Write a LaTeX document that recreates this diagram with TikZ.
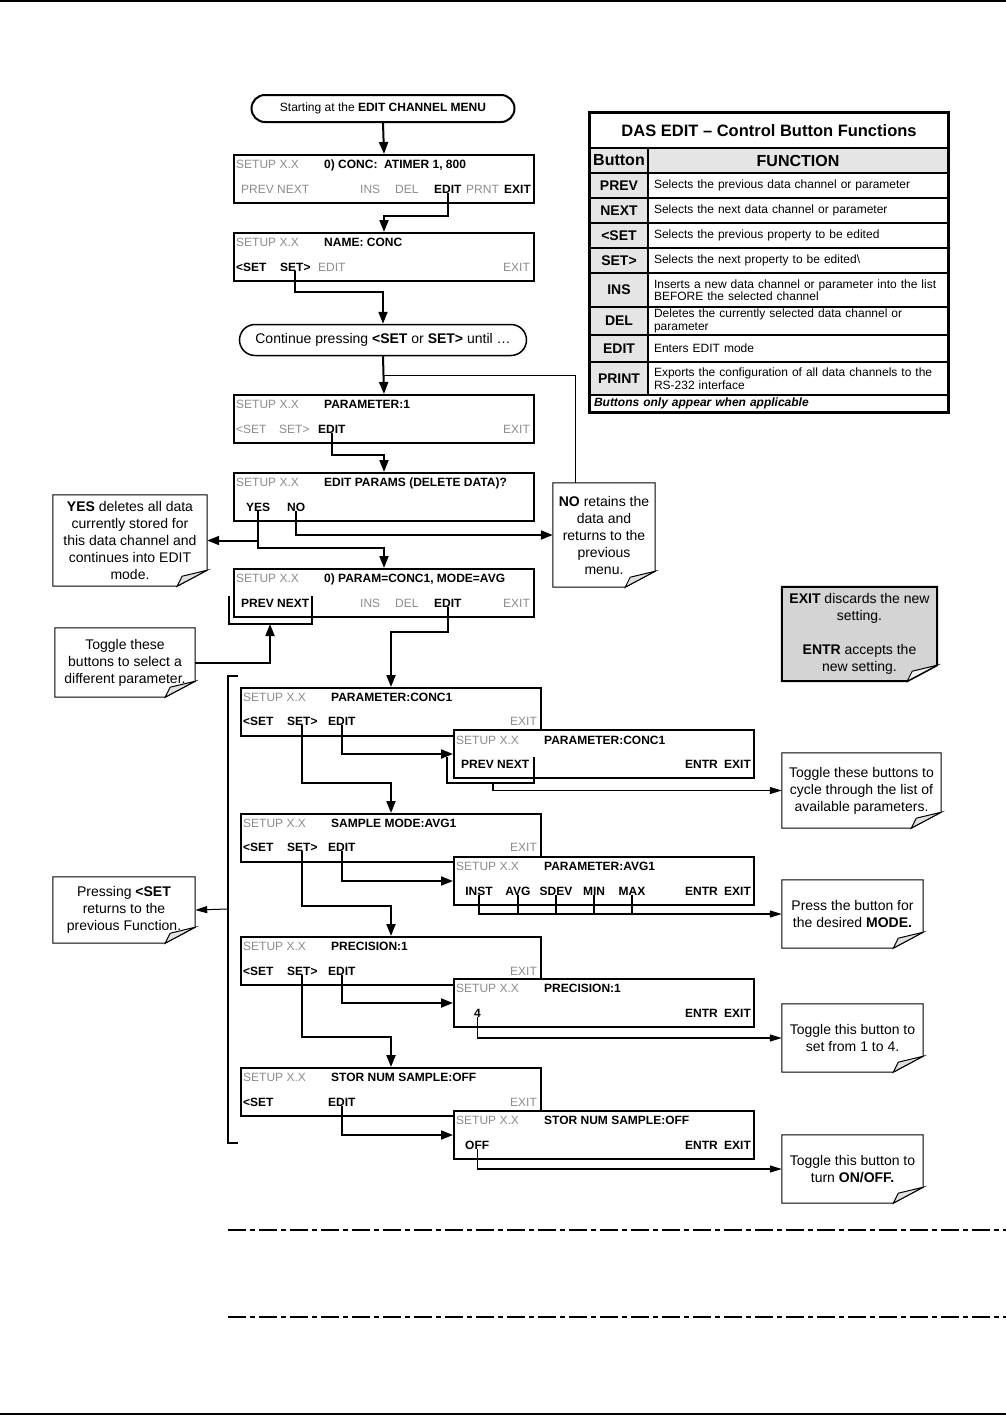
\documentclass[tikz,border=0pt]{standalone}
\usepackage{fontspec}
\setmainfont{Liberation Sans}
\usepackage{tikz}
\usetikzlibrary{shapes}
\usetikzlibrary{arrows.meta}
\usetikzlibrary{calc}
\usetikzlibrary{positioning}

\begin{document}
\begin{tikzpicture}[
		x=1pt,
		y=-1pt,
		font=\fontsize{12pt}{14pt}\selectfont,
		>={Triangle[length=12pt,width=9pt]},
	]
		\tikzset{screen/.style={
			draw,
			rectangle,
			line width=2,
			fill=white,
			anchor=north west,
			minimum width=300,
			minimum height=48,
			inner sep=0,
		}}
		\tikzset{dim/.style={
			anchor=base west,
			inner sep=0,
			text=black!45,
		}}
		\tikzset{key/.style={
			anchor=base west,
			inner sep=0,
			font=\fontsize{12pt}{14pt}\selectfont\bfseries,
		}}
		\tikzset{note/.style={
			align=center,
			inner sep=0,
			font=\fontsize{14pt}{17pt}\selectfont,
		}}
		\tikzset{flow/.style={
			line width=2,
			->,
		}}
		\tikzset{tip/.style={
			line width=1.2,
			-{Triangle[length=12pt,width=7pt]},
		}}
		\tikzset{wire/.style={
			line width=1.2,
		}}
		\tikzset{btncell/.style={
			draw,
			line width=1.2,
			fill=black!10,
			minimum width=58,
			inner sep=0,
			font=\fontsize{14pt}{16pt}\selectfont\bfseries,
		}}
		\tikzset{fncell/.style={
			draw,
			line width=1.2,
			minimum width=300,
			text width=288,
			inner xsep=6,
			inner ysep=0,
			align=left,
			font=\fontsize{12pt}{12.5pt}\selectfont,
		}}

		\useasboundingbox (0,0) rectangle (1006,1416);
		\draw[line width=2] (0,1) -- (1006,1);
		\draw[line width=2] (0,1414) -- (1006,1414);

		%---------------------------------
		% Button table
		\node[
			draw,
			line width=1.5,
			minimum width=358,
			minimum height=35,
			inner sep=0,
			font=\fontsize{16.5pt}{18pt}\selectfont\bfseries,
		] (tbltitle) at (769,130.5) {DAS EDIT -- Control Button Functions};
		\node[
			btncell,
			minimum height=25,
			font=\fontsize{16pt}{18pt}\selectfont\bfseries,
		] (tblbtn) at (619,160.5) {Button};
		\node[
			draw,
			line width=1.2,
			fill=black!10,
			minimum width=300,
			minimum height=25,
			inner sep=0,
			font=\fontsize{16pt}{18pt}\selectfont\bfseries,
		] (tblfn) at (798,160.5) {FUNCTION};
		\foreach \btn/\fn/\ya/\yb [count=\i] in {
			PREV/{Selects the previous data channel or parameter}/173/198,
			NEXT/{Selects the next data channel or parameter}/198/223,
			<SET/{Selects the previous property to be edited}/223/248,
			SET>/{Selects the next property to be edited\textbackslash}/248/273,
			INS/{Inserts a new data channel or parameter into the list\\BEFORE the selected channel}/273/307,
			DEL/{Deletes the currently selected data channel or\\parameter}/307/335,
			EDIT/{Enters EDIT mode}/335/362,
			PRINT/{Exports the configuration of all data channels to the\\RS-232 interface}/362/395%
		}{
			\node[btncell, minimum height=\yb-\ya] (btn\i) at (619,{(\ya+\yb)/2}) {\btn};
			\node[fncell, minimum height=\yb-\ya] (fn\i) at (798,{(\ya+\yb)/2}) {\fn};
		}
		\node[
			draw,
			line width=1.2,
			minimum width=358,
			minimum height=17,
			text width=350,
			inner xsep=4,
			inner ysep=0,
			align=left,
			font=\fontsize{12pt}{13pt}\selectfont\bfseries\itshape,
		] (tblfoot) at (769,403.5) {Buttons only appear when applicable};
		\draw[line width=2] (tbltitle.north west) rectangle (tblfoot.south east);

		%---------------------------------
		% Channel menu
		\node[
			draw,
			rounded rectangle,
			line width=2,
			minimum width=263,
			minimum height=27,
			inner sep=0,
			font=\fontsize{12pt}{13pt}\selectfont,
		] (start) at (383,108.5) {Starting at the \textbf{EDIT CHANNEL MENU}};

		\node[screen] (scr1) at (233,154) {};
		\node[dim] (s1setup) at (236,168) {SETUP X.X};
		\node[key] (s1title) at (324,168) {0) CONC:\ \ ATIMER 1, 800};
		\node[dim] (s1prev) at (241,193) {PREV NEXT};
		\node[dim] (s1ins) at (360,193) {INS};
		\node[dim] (s1del) at (395,193) {DEL};
		\node[key] (s1edit) at (434,193) {EDIT};
		\node[dim] (s1prnt) at (466,193) {PRNT};
		\node[key] (s1exit) at (504,193) {EXIT};

		\node[screen] (scr2) at (233,232) {};
		\node[dim] (s2setup) at (236,246) {SETUP X.X};
		\node[key] (s2title) at (324,246) {NAME: CONC};
		\node[key] (s2lset) at (236,271) {<SET};
		\node[key] (s2rset) at (280,271) {SET>};
		\node[dim] (s2edit) at (318,271) {EDIT};
		\node[dim] (s2exit) at (503,271) {EXIT};

		\node[
			draw,
			rounded rectangle,
			line width=1.5,
			minimum width=287,
			minimum height=31,
			inner sep=0,
			font=\fontsize{14pt}{16pt}\selectfont,
		] (cont) at (383,340) {Continue pressing \textbf{<SET} or \textbf{SET>} until \ldots};

		%---------------------------------
		% Parameter menu
		\node[screen] (scr3) at (233,394) {};
		\node[dim] (s3setup) at (236,408) {SETUP X.X};
		\node[key] (s3title) at (324,408) {PARAMETER:1};
		\node[dim] (s3lset) at (236,433) {<SET};
		\node[dim] (s3rset) at (279,433) {SET>};
		\node[key] (s3edit) at (318,433) {EDIT};
		\node[dim] (s3exit) at (503,433) {EXIT};

		\node[screen] (scr4) at (233,472) {};
		\node[dim] (s4setup) at (236,486) {SETUP X.X};
		\node[key] (s4title) at (324,486) {EDIT PARAMS (DELETE DATA)?};
		\node[key] (s4yes) at (246,511) {YES};
		\node[key] (s4no) at (287,511) {NO};

		\node[screen] (scr5) at (233,568) {};
		\node[dim] (s5setup) at (236,582) {SETUP X.X};
		\node[key] (s5title) at (324,582) {0) PARAM=CONC1, MODE=AVG};
		\node[key] (s5prev) at (241,607) {PREV NEXT};
		\node[dim] (s5ins) at (360,607) {INS};
		\node[dim] (s5del) at (395,607) {DEL};
		\node[key] (s5edit) at (434,607) {EDIT};
		\node[dim] (s5exit) at (503,607) {EXIT};
		\draw[wire] (229,596) -- (229,624) -- (312,624) -- (312,596);
		\coordinate (brk5) at (270,624);

		%---------------------------------
		% Properties
		\node[screen] (scr6) at (240,687) {};
		\node[dim] (s6setup) at (243,701) {SETUP X.X};
		\node[key] (s6title) at (331,701) {PARAMETER:CONC1};
		\node[key] (s6lset) at (243,725) {<SET};
		\node[key] (s6rset) at (287,725) {SET>};
		\node[key] (s6edit) at (328,725) {EDIT};
		\node[dim] (s6exit) at (510,725) {EXIT};
		\node[screen] (sub6) at (453,729) {};
		\node[dim] (t6setup) at (456,744) {SETUP X.X};
		\node[key] (t6title) at (544,744) {PARAMETER:CONC1};
		\node[key] (t6prev) at (461,768) {PREV NEXT};
		\node[key] (t6entr) at (685,768) {ENTR};
		\node[key] (t6exit) at (724,768) {EXIT};
		\draw[wire] (447,757) -- (447,783) -- (534,783) -- (534,757);
		\coordinate (brk6) at (493,783);

		\node[screen] (scr7) at (240,813) {};
		\node[dim] (s7setup) at (243,827) {SETUP X.X};
		\node[key] (s7title) at (331,827) {SAMPLE MODE:AVG1};
		\node[key] (s7lset) at (243,851) {<SET};
		\node[key] (s7rset) at (287,851) {SET>};
		\node[key] (s7edit) at (328,851) {EDIT};
		\node[dim] (s7exit) at (510,851) {EXIT};
		\node[screen] (sub7) at (453,856) {};
		\node[dim] (t7setup) at (456,870) {SETUP X.X};
		\node[key] (t7title) at (544,870) {PARAMETER:AVG1};
		\node[key, anchor=base] (t7inst) at (479,895) {INST};
		\node[key, anchor=base] (t7avg) at (518,895) {AVG};
		\node[key, anchor=base] (t7sdev) at (556,895) {SDEV};
		\node[key, anchor=base] (t7min) at (594,895) {MIN};
		\node[key, anchor=base] (t7max) at (632,895) {MAX};
		\node[key] (t7entr) at (685,895) {ENTR};
		\node[key] (t7exit) at (724,895) {EXIT};

		\node[screen] (scr8) at (240,936) {};
		\node[dim] (s8setup) at (243,950) {SETUP X.X};
		\node[key] (s8title) at (331,950) {PRECISION:1};
		\node[key] (s8lset) at (243,975) {<SET};
		\node[key] (s8rset) at (287,975) {SET>};
		\node[key] (s8edit) at (328,975) {EDIT};
		\node[dim] (s8exit) at (510,975) {EXIT};
		\node[screen] (sub8) at (453,978) {};
		\node[dim] (t8setup) at (456,992) {SETUP X.X};
		\node[key] (t8title) at (544,992) {PRECISION:1};
		\node[key] (t8four) at (474,1017) {4};
		\node[key] (t8entr) at (685,1017) {ENTR};
		\node[key] (t8exit) at (724,1017) {EXIT};

		\node[screen] (scr9) at (240,1067) {};
		\node[dim] (s9setup) at (243,1081) {SETUP X.X};
		\node[key] (s9title) at (331,1081) {STOR NUM SAMPLE:OFF};
		\node[key] (s9lset) at (243,1106) {<SET};
		\node[key] (s9edit) at (328,1106) {EDIT};
		\node[dim] (s9exit) at (510,1106) {EXIT};
		\node[screen] (sub9) at (453,1110) {};
		\node[dim] (t9setup) at (456,1124) {SETUP X.X};
		\node[key] (t9title) at (544,1124) {STOR NUM SAMPLE:OFF};
		\node[key] (t9off) at (465,1149) {OFF};
		\node[key] (t9entr) at (685,1149) {ENTR};
		\node[key] (t9exit) at (724,1149) {EXIT};

		\draw[wire] (238,676) -- (228,676) -- (228,1143) -- (238,1143);
		\coordinate (setback) at (228,909);

		%---------------------------------
		% Notes
		\node[note, minimum width=154, minimum height=91] (yesnote) at (130,540.5)
			{\textbf{YES} deletes all data\\currently stored for\\this data channel and\\continues into EDIT\\mode.};
		\node[note, minimum width=102, minimum height=104] (nonote) at (604,535)
			{\textbf{NO} retains the\\data and\\returns to the\\previous\\menu.};
		\node[note, minimum width=140, minimum height=69] (tognote) at (125,662.5)
			{Toggle these\\buttons to select a\\different parameter.};
		\node[note, minimum width=142, minimum height=66] (presnote) at (124,910)
			{Pressing \textbf{<SET}\\returns to the\\previous Function.};
		\node[note, minimum width=159, minimum height=75] (c1note) at (861.5,790.5)
			{Toggle these buttons to\\cycle through the list of\\available parameters.};
		\node[note, minimum width=141, minimum height=68] (c2note) at (852.5,914)
			{Press the button for\\the desired \textbf{MODE.}};
		\node[note, minimum width=141, minimum height=68] (c3note) at (852.5,1038)
			{Toggle this button to\\set from 1 to 4.};
		\node[note, minimum width=141, minimum height=68] (c4note) at (852.5,1169)
			{Toggle this button to\\turn \textbf{ON/OFF.}};
		\node[note, fill=black!17, minimum width=155, minimum height=94] (exitnote) at (859.5,634)
			{\textbf{EXIT} discards the new\\setting.\\[17pt]\textbf{ENTR} accepts the\\new setting.};

		\foreach \n in {yesnote,nonote,tognote,presnote,c1note,c2note,c3note,c4note}{
			\draw[line width=1] (\n.north west) -- (\n.north east) -- ([yshift=16]\n.south east)
				-- ([xshift=-30]\n.south east) -- (\n.south west) -- cycle;
			\draw[line width=1, fill=black!12] ([yshift=16]\n.south east)
				-- ([xshift=-25,yshift=10]\n.south east) -- ([xshift=-30]\n.south east) -- cycle;
		}
		\fill[white] ([yshift=16]exitnote.south east) -- (exitnote.south east) -- ([xshift=-30]exitnote.south east) -- cycle;
		\draw[line width=2] (exitnote.north west) -- (exitnote.north east) -- ([yshift=16]exitnote.south east)
			-- ([xshift=-30]exitnote.south east) -- (exitnote.south west) -- cycle;
		\draw[line width=1, fill=black!5] ([yshift=16]exitnote.south east)
			-- ([xshift=-25,yshift=10]exitnote.south east) -- ([xshift=-30]exitnote.south east) -- cycle;

		%---------------------------------
		% Connectors
		\draw[flow] (start.south) -- (scr1.north);
		\draw[flow] (s1edit.south) -- ++(0,23) -| (scr2.north);
		\draw[flow] (s2rset.south) -- ++(0,21) -| (cont.north);
		\draw[flow] (cont.south) -- (scr3.north);
		\draw[line width=1] ([xshift=-29]nonote.north) |- ($(cont.south)!0.5!(scr3.north)$);
		\draw[flow] (s3edit.south) -- ++(0,22) -| (scr4.north);
		\draw[flow] (s4yes.south) |- (yesnote.east);
		\draw[flow] (s4yes.south) -- ++(0,37) -| (scr5.north);
		\draw[flow] (s4no.south) |- (nonote.west);
		\draw[flow] (tognote.east) -| (brk5);
		\draw[flow] (s5edit.south) -- ++(0,25) -| (scr6.north);
		\draw[flow] (s6edit.south) |- (sub6.west);
		\draw[tip] (brk6) |- (c1note.west);
		\draw[flow] (s6rset.south) -- ++(0,58) -| (scr7.north);
		\draw[flow] (s7edit.south) |- (sub7.west);
		\draw[tip] (t7inst.south) |- (c2note.west);
		\foreach \b in {t7avg,t7sdev,t7min,t7max}{
			\draw[wire] (\b.south) -- (\b.south |- c2note.west);
		}
		\draw[flow] (s7rset.south) -- ++(0,55) -| (scr8.north);
		\draw[flow] (s8edit.south) |- (sub8.west);
		\draw[tip] (t8four.south) |- (c3note.west);
		\draw[flow] (s8rset.south) -- ++(0,62) -| (scr9.north);
		\draw[flow] (s9edit.south) |- (sub9.west);
		\draw[tip] (t9off.south) |- (c4note.west);
		\draw[tip, line width=1] (setback) -- (presnote.east);

		%---------------------------------
		% Page rules
		\draw[line width=2, dash pattern=on 18pt off 4pt on 5pt off 4pt] (228,1230) -- (1006,1230);
		\draw[line width=1.5, dash pattern=on 18pt off 4pt on 5pt off 4pt] (228,1317) -- (1006,1317);
	\end{tikzpicture}
\end{document}
